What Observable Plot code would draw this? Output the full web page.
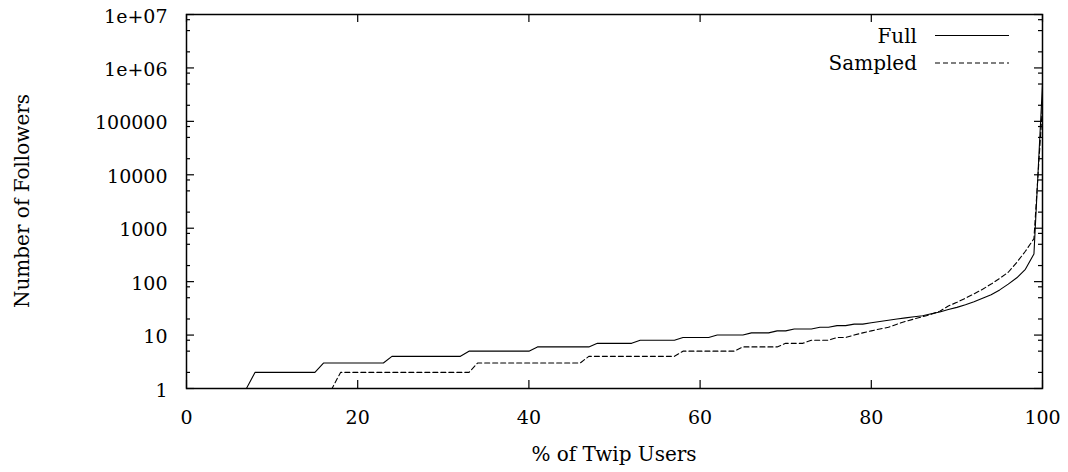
<!DOCTYPE html>
<html>
<head>
<meta charset="utf-8">
<script src="https://cdn.jsdelivr.net/npm/d3@7"></script>
<script src="https://cdn.jsdelivr.net/npm/@observablehq/plot@0.6"></script>
<style>
  body { margin: 0; background: #fff; }
  #chart svg { display: block; }
</style>
</head>
<body>
<div id="chart"></div>
<script>
// Follower counts at each percentile of Twip users (corner points of the CDF curves)
const fullPct = [0, 7, 8, 15, 16, 23, 24, 32, 33, 40, 41, 47, 48, 52, 53, 57, 58, 61, 62, 65, 66, 68, 69, 70, 71, 73, 74, 75, 76, 77, 78, 79,
  80, 81, 82, 83, 84, 85, 86, 87, 88, 89, 90, 91, 92, 93, 94, 95, 96, 97, 98, 99, 100];
const fullFollowers = [1, 1, 2, 2, 3, 3, 4, 4, 5, 5, 6, 6, 7, 7, 8, 8, 9, 9, 10, 10, 11, 11, 12, 12, 13, 13, 14, 14, 15, 15, 16, 16,
  17, 18, 19, 20, 21, 22, 23, 25, 27, 30, 33, 37, 42, 49, 57, 70, 90, 118, 170, 330, 500000];

const sampledPct = [0, 17, 18, 33, 34, 46, 47, 57, 58, 64, 65, 69, 70, 72, 73, 75, 76, 77, 78, 79,
  80, 81, 82, 83, 84, 85, 86, 87, 88, 89, 90, 91, 92, 93, 94, 95, 96, 97, 98, 99, 100];
const sampledFollowers = [1, 1, 2, 2, 3, 3, 4, 4, 5, 5, 6, 6, 7, 7, 8, 8, 9, 9, 10, 11,
  12, 13, 14, 16, 18, 20, 22, 24.5, 28, 35, 41, 49, 59, 72, 90, 115, 150, 230, 370, 640, 200000];

const seriesNames = ["Full", "Sampled"];
const xTicks = [0, 20, 40, 60, 80, 100];
const yTicks = [1, 10, 100, 1000, 10000, 100000, 1e6, 1e7];
const yTickLabels = ["1", "10", "100", "1000", "10000", "100000", "1e+06", "1e+07"];
const yMinorSteps = [2, 5, 8];

const font = "'DejaVu Serif', serif";
const W = 1068, H = 472;
const mLeft = 186, mRight = 26, mTop = 14, mBottom = 84;
const frameW = W - mLeft - mRight, frameH = H - mTop - mBottom;
const majorLen = 8, minorLen = 4;

const full = fullPct.map((p, i) => ({pct: p, followers: fullFollowers[i]}));
const sampled = sampledPct.map((p, i) => ({pct: p, followers: sampledFollowers[i]}));
const yMinor = yTicks.slice(0, -1).flatMap(t => yMinorSteps.map(m => m * t));
const labelOf = new Map(yTicks.map((t, i) => [t, yTickLabels[i]]));

const plot = Plot.plot({
  width: W,
  height: H,
  marginLeft: mLeft,
  marginRight: mRight,
  marginTop: mTop,
  marginBottom: mBottom,
  style: {fontFamily: font, background: "#fff", color: "#000"},
  x: {domain: [0, 100]},
  y: {type: "log", domain: [1, 1e7]},
  marks: [
    Plot.axisY(yTicks, {tickSize: 0, tickPadding: 19, fontSize: 19, dy: 2,
      tickFormat: d => labelOf.get(d), label: null}),
    Plot.axisX(xTicks, {tickSize: 0, tickPadding: 22, fontSize: 19, label: null}),
    // inward ticks on all four sides
    Plot.tickY(yTicks, {y: d => d, insetRight: frameW - majorLen, stroke: "#000", strokeWidth: 1.2}),
    Plot.tickY(yTicks, {y: d => d, insetLeft: frameW - majorLen, stroke: "#000", strokeWidth: 1.2}),
    Plot.tickY(yMinor, {y: d => d, insetRight: frameW - minorLen, stroke: "#000", strokeWidth: 1.2}),
    Plot.tickY(yMinor, {y: d => d, insetLeft: frameW - minorLen, stroke: "#000", strokeWidth: 1.2}),
    Plot.tickX(xTicks, {x: d => d, insetTop: frameH - majorLen, stroke: "#000", strokeWidth: 1.2}),
    Plot.tickX(xTicks, {x: d => d, insetBottom: frameH - majorLen, stroke: "#000", strokeWidth: 1.2}),
    Plot.line(full, {x: "pct", y: "followers", stroke: "#000", strokeWidth: 1.1}),
    Plot.line(sampled, {x: "pct", y: "followers", stroke: "#000", strokeWidth: 1.1, strokeDasharray: "5,3"}),
    Plot.frame({stroke: "#000", strokeWidth: 1.5})
  ]
});

const svg = d3.select(plot);

// axis titles
svg.append("text")
  .attr("transform", `translate(${mLeft - 164},${mTop + frameH / 2}) rotate(-90)`)
  .attr("text-anchor", "middle")
  .attr("dy", "0.35em")
  .attr("font-family", font)
  .attr("font-size", 20)
  .attr("fill", "#000")
  .text("Number of Followers");

svg.append("text")
  .attr("x", mLeft + frameW / 2)
  .attr("y", H - 11)
  .attr("text-anchor", "middle")
  .attr("font-family", font)
  .attr("font-size", 20)
  .attr("fill", "#000")
  .text("% of Twip Users");

// key in the upper right corner
const key = svg.append("g").attr("font-family", font).attr("font-size", 20);
const keyDash = [null, "5,3"];
seriesNames.forEach((name, i) => {
  const y = 35.5 + i * 27.5;
  key.append("text")
    .attr("x", 917).attr("y", y + 7)
    .attr("text-anchor", "end")
    .attr("fill", "#000")
    .text(name);
  key.append("line")
    .attr("x1", 935).attr("x2", 1009)
    .attr("y1", y).attr("y2", y)
    .attr("stroke", "#000").attr("stroke-width", 1.1)
    .attr("stroke-dasharray", keyDash[i]);
});

document.getElementById("chart").append(plot);
</script>
</body>
</html>
